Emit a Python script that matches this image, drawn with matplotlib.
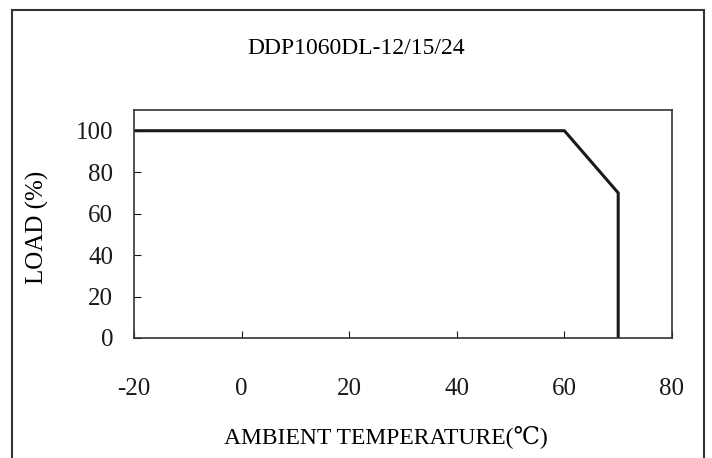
import matplotlib.pyplot as plt
from matplotlib.patches import Rectangle

# derating curve
temp_c = [-20, 60, 70, 70]
load_pct = [100, 100, 70, 0]
x_ticks = [-20, 0, 20, 40, 60, 80]
y_ticks = [0, 20, 40, 60, 80, 100]

plt.rcParams['font.family'] = ['Liberation Serif', 'DejaVu Serif', 'DejaVu Sans']
plt.rcParams['axes.unicode_minus'] = False

fig = plt.figure(figsize=(7.12, 4.58), dpi=100)

# outer frame around the whole drawing
W, H = 712, 458
fig.patches.append(Rectangle((12 / W, -0.05), (704 - 12) / W, 1.05 - 10 / H,
                             transform=fig.transFigure, fill=False,
                             edgecolor='#333333', linewidth=1.5))

ax = fig.add_axes([134 / W, 1 - 338 / H, (672 - 134) / W, (338 - 110) / H])
ax.plot(temp_c, load_pct, color='#1a1a1a', linewidth=2.2, solid_joinstyle='miter')

ax.set_xlim(-20, 80)
ax.set_ylim(0, 110)
ax.set_xticks(x_ticks)
ax.set_yticks(y_ticks)
ax.tick_params(direction='in', length=5, width=0.8, labelsize=18, colors='#1a1a1a')
ax.tick_params(axis='x', pad=29)
ax.tick_params(axis='y', pad=15)
for s in ax.spines.values():
    s.set_linewidth(1.2)
    s.set_color('#333333')

fig.text(356 / W, 1 - 48 / H, 'DDP1060DL-12/15/24', ha='center', va='center', fontsize=17)
fig.text(386 / W, 1 - 437 / H, 'AMBIENT TEMPERATURE(℃)', ha='center', va='center', fontsize=17)
fig.text(37 / W, 1 - 227 / H, 'LOAD (%)', ha='center', va='center', fontsize=18, rotation=90)

plt.savefig('out.png', dpi=100)
